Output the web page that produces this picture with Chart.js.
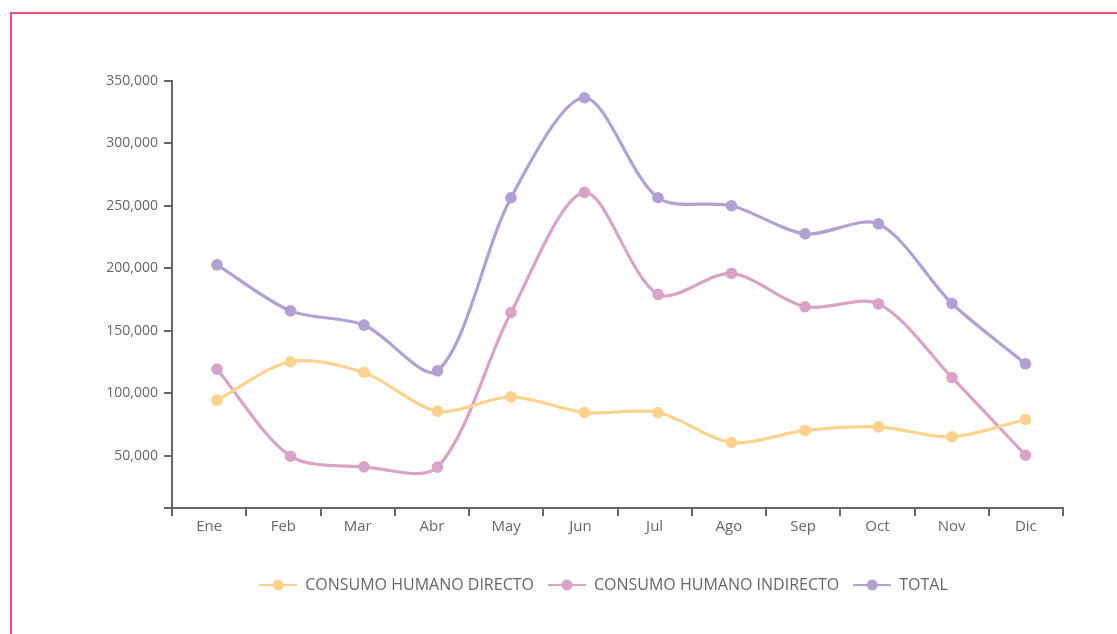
<!DOCTYPE html>
<html>
<head>
<meta charset="utf-8">
<script src="https://cdn.jsdelivr.net/npm/chart.js@4.4.1/dist/chart.umd.min.js"></script>
<style>
  html, body { margin: 0; padding: 0; background: #ffffff; }
  #wrap { position: relative; width: 1117px; height: 634px; overflow: hidden; }
  #frame { position: absolute; left: 10px; top: 12px; width: 1200px; height: 700px;
           border-left: 2px solid #EC4F78; border-top: 2px solid #EC4F78; box-sizing: border-box; }
  #c { position: absolute; left: 0; top: 0; }
</style>
</head>
<body>
<div id="wrap">
  <div id="frame"></div>
  <canvas id="c" width="1117" height="634"></canvas>
</div>
<script>
const meses = ['Ene','Feb','Mar','Abr','May','Jun','Jul','Ago','Sep','Oct','Nov','Dic'];
const directo   = [94400, 125100, 116600, 85600, 97000, 84500, 84500, 60500, 70100, 73000, 65000, 78900];
const indirecto = [119200, 49500, 41000, 40700, 164600, 260800, 179100, 195900, 169200, 171500, 112500, 50300];
const total     = [202800, 165900, 154500, 117900, 256500, 336600, 256500, 250100, 227600, 235600, 171800, 123500];
const seriesNames = ['CONSUMO HUMANO DIRECTO', 'CONSUMO HUMANO INDIRECTO', 'TOTAL'];
const colors = ['#FCD28E', '#D9A3C7', '#B1A0D1'];
const yTicks = [50000, 100000, 150000, 200000, 250000, 300000, 350000];

function legendIcon(color) {
  const cv = document.createElement('canvas');
  cv.width = 38; cv.height = 12;
  const g = cv.getContext('2d');
  g.strokeStyle = color; g.lineWidth = 2;
  g.beginPath(); g.moveTo(0, 6); g.lineTo(38, 6); g.stroke();
  g.fillStyle = color;
  g.beginPath(); g.arc(19, 6, 5.5, 0, Math.PI * 2); g.fill();
  return cv;
}
const icons = colors.map(legendIcon);

function mk(name, values, color) {
  return {
    label: name,
    data: values.map((v, i) => ({ x: i, y: v })),
    xAxisID: 'xp',
    borderColor: color,
    backgroundColor: color,
    pointBackgroundColor: color,
    pointBorderColor: color,
    borderWidth: 3.2,
    pointRadius: 5.8,
    pointBorderWidth: 0,
    tension: 0.3,
    fill: false
  };
}

const legendShift = {
  id: 'legendShift',
  afterLayout(chart) {
    const l = chart.legend;
    if (l) { l.left -= 14; l.right -= 14; }
  }
};

new Chart(document.getElementById('c'), {
  type: 'line',
  data: {
    labels: meses,
    datasets: [
      mk(seriesNames[0], directo, colors[0]),
      mk(seriesNames[1], indirecto, colors[1]),
      mk(seriesNames[2], total, colors[2])
    ]
  },
  plugins: [legendShift],
  options: {
    responsive: false,
    animation: false,
    layout: { padding: { left: 0, top: 81, right: 54, bottom: 31 } },
    plugins: {
      tooltip: { enabled: false },
      legend: {
        position: 'bottom',
        fullSize: false,
        labels: {
          usePointStyle: true,
          pointStyleWidth: 38,
          padding: 14,
          color: '#666666',
          font: { family: 'Open Sans', size: 16 },
          generateLabels: (chart) => chart.data.datasets.map((ds, i) => ({
            text: ds.label,
            fillStyle: ds.borderColor,
            strokeStyle: ds.borderColor,
            lineWidth: 0,
            pointStyle: icons[i],
            hidden: false,
            datasetIndex: i,
            fontColor: '#666666'
          }))
        }
      }
    },
    scales: {
      x: {
        type: 'category',
        offset: true,
        afterFit: (s) => { s.height = 55; },
        grid: { offset: true, drawOnChartArea: false, drawTicks: true, tickLength: 8, color: '#666666', lineWidth: 2 },
        border: { display: true, color: '#666666', width: 2 },
        ticks: { color: '#666666', font: { family: 'Open Sans', size: 15 }, padding: 2, maxRotation: 0 }
      },
      xp: {
        type: 'linear',
        display: false,
        min: -0.612,
        max: 11.51
      },
      y: {
        type: 'linear',
        min: 8000,
        max: 350000,
        afterFit: (s) => { s.width = 172; },
        afterBuildTicks: (s) => { s.ticks = [{ value: 8000 }].concat(yTicks.map(v => ({ value: v }))); },
        grid: { drawOnChartArea: false, drawTicks: true, tickLength: 8, color: '#666666', lineWidth: 2 },
        border: { display: true, color: '#666666', width: 2 },
        ticks: {
          color: '#666666',
          padding: 6,
          font: { family: 'Open Sans', size: 14 },
          callback: (v) => (yTicks.includes(v) ? v.toLocaleString('en-US') : '')
        }
      }
    }
  }
});
</script>
</body>
</html>
